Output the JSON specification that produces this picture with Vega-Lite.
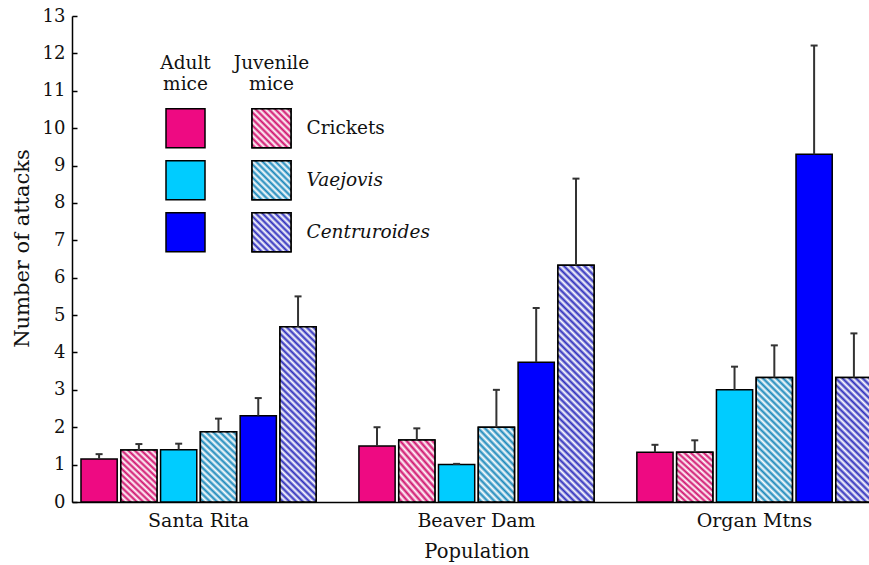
{
"$schema": "https://vega.github.io/schema/vega-lite/v6.json",
"width": 797, "height": 486,
"autosize": {"type": "none"},
"padding": {"left": 72, "top": 16, "right": 0, "bottom": 63},
"background": "white",
"config": {
  "font": "DejaVu Serif",
  "view": {"stroke": null},
  "axis": {"grid": false, "labelFontSize": 18, "titleFontSize": 19.5, "titleFontWeight": "normal", "labelColor": "#111", "titleColor": "#111", "domainColor": "#000", "domainWidth": 1.5, "tickColor": "#000", "tickWidth": 1.5}
},
"datasets": {
  "bars": [
    {"population": "Santa Rita", "prey": "Crickets", "age": "Adult", "series": "Crickets Adult", "attacks": 1.15, "upper": 1.28},
    {"population": "Santa Rita", "prey": "Crickets", "age": "Juvenile", "series": "Crickets Juvenile", "attacks": 1.39, "upper": 1.55},
    {"population": "Santa Rita", "prey": "Vaejovis", "age": "Adult", "series": "Vaejovis Adult", "attacks": 1.4, "upper": 1.56},
    {"population": "Santa Rita", "prey": "Vaejovis", "age": "Juvenile", "series": "Vaejovis Juvenile", "attacks": 1.88, "upper": 2.23},
    {"population": "Santa Rita", "prey": "Centruroides", "age": "Adult", "series": "Centruroides Adult", "attacks": 2.31, "upper": 2.78},
    {"population": "Santa Rita", "prey": "Centruroides", "age": "Juvenile", "series": "Centruroides Juvenile", "attacks": 4.69, "upper": 5.5},
    {"population": "Beaver Dam", "prey": "Crickets", "age": "Adult", "series": "Crickets Adult", "attacks": 1.5, "upper": 2.0},
    {"population": "Beaver Dam", "prey": "Crickets", "age": "Juvenile", "series": "Crickets Juvenile", "attacks": 1.66, "upper": 1.97},
    {"population": "Beaver Dam", "prey": "Vaejovis", "age": "Adult", "series": "Vaejovis Adult", "attacks": 1.0, "upper": 1.02},
    {"population": "Beaver Dam", "prey": "Vaejovis", "age": "Juvenile", "series": "Vaejovis Juvenile", "attacks": 2.0, "upper": 3.0},
    {"population": "Beaver Dam", "prey": "Centruroides", "age": "Adult", "series": "Centruroides Adult", "attacks": 3.74, "upper": 5.19},
    {"population": "Beaver Dam", "prey": "Centruroides", "age": "Juvenile", "series": "Centruroides Juvenile", "attacks": 6.33, "upper": 8.65},
    {"population": "Organ Mtns", "prey": "Crickets", "age": "Adult", "series": "Crickets Adult", "attacks": 1.33, "upper": 1.53},
    {"population": "Organ Mtns", "prey": "Crickets", "age": "Juvenile", "series": "Crickets Juvenile", "attacks": 1.33, "upper": 1.65},
    {"population": "Organ Mtns", "prey": "Vaejovis", "age": "Adult", "series": "Vaejovis Adult", "attacks": 3.0, "upper": 3.62},
    {"population": "Organ Mtns", "prey": "Vaejovis", "age": "Juvenile", "series": "Vaejovis Juvenile", "attacks": 3.33, "upper": 4.19},
    {"population": "Organ Mtns", "prey": "Centruroides", "age": "Adult", "series": "Centruroides Adult", "attacks": 9.3, "upper": 12.21},
    {"population": "Organ Mtns", "prey": "Centruroides", "age": "Juvenile", "series": "Centruroides Juvenile", "attacks": 3.33, "upper": 4.51}
  ],
  "legend": [
    {"age": "Adult", "prey": "Crickets", "series": "Crickets Adult"},
    {"age": "Juvenile", "prey": "Crickets", "series": "Crickets Juvenile"},
    {"age": "Adult", "prey": "Vaejovis", "series": "Vaejovis Adult"},
    {"age": "Juvenile", "prey": "Vaejovis", "series": "Vaejovis Juvenile"},
    {"age": "Adult", "prey": "Centruroides", "series": "Centruroides Adult"},
    {"age": "Juvenile", "prey": "Centruroides", "series": "Centruroides Juvenile"}
  ],
  "headers": [
    {"age": "Adult", "label": "Adult\nmice"},
    {"age": "Juvenile", "label": "Juvenile\nmice"}
  ]
},
"layer": [
  {
    "data": {"name": "bars"},
    "encoding": {
      "x": {"field": "population", "type": "nominal", "sort": ["Santa Rita", "Beaver Dam", "Organ Mtns"],
            "scale": {"range": [0, 809], "paddingInner": 0.141, "paddingOuter": 0.0259},
            "axis": {"title": "Population", "ticks": false, "labelPadding": 9, "titlePadding": 12, "labelAngle": 0, "labelFontSize": 19}},
      "xOffset": {"field": "series", "type": "nominal",
            "scale": {"domain": ["Crickets Adult", "Crickets Juvenile", "Vaejovis Adult", "Vaejovis Juvenile", "Centruroides Adult", "Centruroides Juvenile"], "paddingInner": 0.09, "paddingOuter": 0.045}},
      "y": {"field": "attacks", "type": "quantitative", "scale": {"domain": [0, 13], "nice": false},
            "axis": {"title": "Number of attacks", "titleFontSize": 21, "titleY": 232, "values": [0,1,2,3,4,5,6,7,8,9,10,11,12,13], "tickSize": -5, "labelPadding": 12, "titlePadding": 10}}
    },
    "layer": [
      {
        "mark": {"type": "bar", "stroke": "black", "strokeWidth": 1.5, "opacity": 1, "clip": true},
        "encoding": {
          "fill": {"field": "series", "type": "nominal", "legend": null,
            "scale": {"domain": ["Crickets Adult", "Crickets Juvenile", "Vaejovis Adult", "Vaejovis Juvenile", "Centruroides Adult", "Centruroides Juvenile"],
                      "range": ["#ee0a82", "#d0106c", "#00ccff", "#1a88bb", "#0000ff", "#2e2ebc"]}}
        }
      },
      {
        "transform": [{"filter": "datum.age == 'Juvenile'"}],
        "mark": {"type": "bar", "stroke": "black", "strokeWidth": 1.5, "opacity": 1, "clip": true},
        "encoding": {
          "fill": {
            "condition": [
              {"test": "datum.prey == 'Crickets'", "value": {"gradient": "linear", "x1": 0, "y1": 1, "x2": 0.7692, "y2": -0.1538, "stops": [
                {"offset":0,"color":"white"},{"offset":0.0357,"color":"rgba(255,255,255,0)"},{"offset":0.0714,"color":"white"},{"offset":0.1071,"color":"rgba(255,255,255,0)"},{"offset":0.1429,"color":"white"},{"offset":0.1786,"color":"rgba(255,255,255,0)"},{"offset":0.2143,"color":"white"},{"offset":0.25,"color":"rgba(255,255,255,0)"},{"offset":0.2857,"color":"white"},{"offset":0.3214,"color":"rgba(255,255,255,0)"},{"offset":0.3571,"color":"white"},{"offset":0.3929,"color":"rgba(255,255,255,0)"},{"offset":0.4286,"color":"white"},{"offset":0.4643,"color":"rgba(255,255,255,0)"},{"offset":0.5,"color":"white"},{"offset":0.5357,"color":"rgba(255,255,255,0)"},{"offset":0.5714,"color":"white"},{"offset":0.6071,"color":"rgba(255,255,255,0)"},{"offset":0.6429,"color":"white"},{"offset":0.6786,"color":"rgba(255,255,255,0)"},{"offset":0.7143,"color":"white"},{"offset":0.75,"color":"rgba(255,255,255,0)"},{"offset":0.7857,"color":"white"},{"offset":0.8214,"color":"rgba(255,255,255,0)"},{"offset":0.8571,"color":"white"},{"offset":0.8929,"color":"rgba(255,255,255,0)"},{"offset":0.9286,"color":"white"},{"offset":0.9643,"color":"rgba(255,255,255,0)"},{"offset":1,"color":"white"}]}},
              {"test": "datum.population == 'Organ Mtns'", "value": {"gradient": "linear", "x1": 0, "y1": 1, "x2": 0.3438, "y2": -0.1897, "stops": [
                {"offset":0,"color":"white"},{"offset":0.0208,"color":"rgba(255,255,255,0)"},{"offset":0.0417,"color":"white"},{"offset":0.0625,"color":"rgba(255,255,255,0)"},{"offset":0.0833,"color":"white"},{"offset":0.1042,"color":"rgba(255,255,255,0)"},{"offset":0.125,"color":"white"},{"offset":0.1458,"color":"rgba(255,255,255,0)"},{"offset":0.1667,"color":"white"},{"offset":0.1875,"color":"rgba(255,255,255,0)"},{"offset":0.2083,"color":"white"},{"offset":0.2292,"color":"rgba(255,255,255,0)"},{"offset":0.25,"color":"white"},{"offset":0.2708,"color":"rgba(255,255,255,0)"},{"offset":0.2917,"color":"white"},{"offset":0.3125,"color":"rgba(255,255,255,0)"},{"offset":0.3333,"color":"white"},{"offset":0.3542,"color":"rgba(255,255,255,0)"},{"offset":0.375,"color":"white"},{"offset":0.3958,"color":"rgba(255,255,255,0)"},{"offset":0.4167,"color":"white"},{"offset":0.4375,"color":"rgba(255,255,255,0)"},{"offset":0.4583,"color":"white"},{"offset":0.4792,"color":"rgba(255,255,255,0)"},{"offset":0.5,"color":"white"},{"offset":0.5208,"color":"rgba(255,255,255,0)"},{"offset":0.5417,"color":"white"},{"offset":0.5625,"color":"rgba(255,255,255,0)"},{"offset":0.5833,"color":"white"},{"offset":0.6042,"color":"rgba(255,255,255,0)"},{"offset":0.625,"color":"white"},{"offset":0.6458,"color":"rgba(255,255,255,0)"},{"offset":0.6667,"color":"white"},{"offset":0.6875,"color":"rgba(255,255,255,0)"},{"offset":0.7083,"color":"white"},{"offset":0.7292,"color":"rgba(255,255,255,0)"},{"offset":0.75,"color":"white"},{"offset":0.7708,"color":"rgba(255,255,255,0)"},{"offset":0.7917,"color":"white"},{"offset":0.8125,"color":"rgba(255,255,255,0)"},{"offset":0.8333,"color":"white"},{"offset":0.8542,"color":"rgba(255,255,255,0)"},{"offset":0.875,"color":"white"},{"offset":0.8958,"color":"rgba(255,255,255,0)"},{"offset":0.9167,"color":"white"},{"offset":0.9375,"color":"rgba(255,255,255,0)"},{"offset":0.9583,"color":"white"},{"offset":0.9792,"color":"rgba(255,255,255,0)"},{"offset":1,"color":"white"}]}},
              {"test": "datum.prey == 'Vaejovis'", "value": {"gradient": "linear", "x1": 0, "y1": 1, "x2": 0.6, "y2": -0.2, "stops": [
                {"offset":0,"color":"white"},{"offset":0.03125,"color":"rgba(255,255,255,0)"},{"offset":0.0625,"color":"white"},{"offset":0.09375,"color":"rgba(255,255,255,0)"},{"offset":0.125,"color":"white"},{"offset":0.15625,"color":"rgba(255,255,255,0)"},{"offset":0.1875,"color":"white"},{"offset":0.21875,"color":"rgba(255,255,255,0)"},{"offset":0.25,"color":"white"},{"offset":0.28125,"color":"rgba(255,255,255,0)"},{"offset":0.3125,"color":"white"},{"offset":0.34375,"color":"rgba(255,255,255,0)"},{"offset":0.375,"color":"white"},{"offset":0.40625,"color":"rgba(255,255,255,0)"},{"offset":0.4375,"color":"white"},{"offset":0.46875,"color":"rgba(255,255,255,0)"},{"offset":0.5,"color":"white"},{"offset":0.53125,"color":"rgba(255,255,255,0)"},{"offset":0.5625,"color":"white"},{"offset":0.59375,"color":"rgba(255,255,255,0)"},{"offset":0.625,"color":"white"},{"offset":0.65625,"color":"rgba(255,255,255,0)"},{"offset":0.6875,"color":"white"},{"offset":0.71875,"color":"rgba(255,255,255,0)"},{"offset":0.75,"color":"white"},{"offset":0.78125,"color":"rgba(255,255,255,0)"},{"offset":0.8125,"color":"white"},{"offset":0.84375,"color":"rgba(255,255,255,0)"},{"offset":0.875,"color":"white"},{"offset":0.90625,"color":"rgba(255,255,255,0)"},{"offset":0.9375,"color":"white"},{"offset":0.96875,"color":"rgba(255,255,255,0)"},{"offset":1,"color":"white"}]}},
              {"test": "datum.population == 'Santa Rita'", "value": {"gradient": "linear", "x1": 0, "y1": 1, "x2": 0.2375, "y2": -0.1566, "stops": [
                {"offset":0,"color":"white"},{"offset":0.015625,"color":"rgba(255,255,255,0)"},{"offset":0.03125,"color":"white"},{"offset":0.046875,"color":"rgba(255,255,255,0)"},{"offset":0.0625,"color":"white"},{"offset":0.078125,"color":"rgba(255,255,255,0)"},{"offset":0.09375,"color":"white"},{"offset":0.109375,"color":"rgba(255,255,255,0)"},{"offset":0.125,"color":"white"},{"offset":0.140625,"color":"rgba(255,255,255,0)"},{"offset":0.15625,"color":"white"},{"offset":0.171875,"color":"rgba(255,255,255,0)"},{"offset":0.1875,"color":"white"},{"offset":0.203125,"color":"rgba(255,255,255,0)"},{"offset":0.21875,"color":"white"},{"offset":0.234375,"color":"rgba(255,255,255,0)"},{"offset":0.25,"color":"white"},{"offset":0.265625,"color":"rgba(255,255,255,0)"},{"offset":0.28125,"color":"white"},{"offset":0.296875,"color":"rgba(255,255,255,0)"},{"offset":0.3125,"color":"white"},{"offset":0.328125,"color":"rgba(255,255,255,0)"},{"offset":0.34375,"color":"white"},{"offset":0.359375,"color":"rgba(255,255,255,0)"},{"offset":0.375,"color":"white"},{"offset":0.390625,"color":"rgba(255,255,255,0)"},{"offset":0.40625,"color":"white"},{"offset":0.421875,"color":"rgba(255,255,255,0)"},{"offset":0.4375,"color":"white"},{"offset":0.453125,"color":"rgba(255,255,255,0)"},{"offset":0.46875,"color":"white"},{"offset":0.484375,"color":"rgba(255,255,255,0)"},{"offset":0.5,"color":"white"},{"offset":0.515625,"color":"rgba(255,255,255,0)"},{"offset":0.53125,"color":"white"},{"offset":0.546875,"color":"rgba(255,255,255,0)"},{"offset":0.5625,"color":"white"},{"offset":0.578125,"color":"rgba(255,255,255,0)"},{"offset":0.59375,"color":"white"},{"offset":0.609375,"color":"rgba(255,255,255,0)"},{"offset":0.625,"color":"white"},{"offset":0.640625,"color":"rgba(255,255,255,0)"},{"offset":0.65625,"color":"white"},{"offset":0.671875,"color":"rgba(255,255,255,0)"},{"offset":0.6875,"color":"white"},{"offset":0.703125,"color":"rgba(255,255,255,0)"},{"offset":0.71875,"color":"white"},{"offset":0.734375,"color":"rgba(255,255,255,0)"},{"offset":0.75,"color":"white"},{"offset":0.765625,"color":"rgba(255,255,255,0)"},{"offset":0.78125,"color":"white"},{"offset":0.796875,"color":"rgba(255,255,255,0)"},{"offset":0.8125,"color":"white"},{"offset":0.828125,"color":"rgba(255,255,255,0)"},{"offset":0.84375,"color":"white"},{"offset":0.859375,"color":"rgba(255,255,255,0)"},{"offset":0.875,"color":"white"},{"offset":0.890625,"color":"rgba(255,255,255,0)"},{"offset":0.90625,"color":"white"},{"offset":0.921875,"color":"rgba(255,255,255,0)"},{"offset":0.9375,"color":"white"},{"offset":0.953125,"color":"rgba(255,255,255,0)"},{"offset":0.96875,"color":"white"},{"offset":0.984375,"color":"rgba(255,255,255,0)"},{"offset":1,"color":"white"}]}}
            ],
            "value": {"gradient": "linear", "x1": 0, "y1": 1, "x2": 0.1714, "y2": -0.1261, "stops": [
                {"offset":0,"color":"white"},{"offset":0.0125,"color":"rgba(255,255,255,0)"},{"offset":0.025,"color":"white"},{"offset":0.0375,"color":"rgba(255,255,255,0)"},{"offset":0.05,"color":"white"},{"offset":0.0625,"color":"rgba(255,255,255,0)"},{"offset":0.075,"color":"white"},{"offset":0.0875,"color":"rgba(255,255,255,0)"},{"offset":0.1,"color":"white"},{"offset":0.1125,"color":"rgba(255,255,255,0)"},{"offset":0.125,"color":"white"},{"offset":0.1375,"color":"rgba(255,255,255,0)"},{"offset":0.15,"color":"white"},{"offset":0.1625,"color":"rgba(255,255,255,0)"},{"offset":0.175,"color":"white"},{"offset":0.1875,"color":"rgba(255,255,255,0)"},{"offset":0.2,"color":"white"},{"offset":0.2125,"color":"rgba(255,255,255,0)"},{"offset":0.225,"color":"white"},{"offset":0.2375,"color":"rgba(255,255,255,0)"},{"offset":0.25,"color":"white"},{"offset":0.2625,"color":"rgba(255,255,255,0)"},{"offset":0.275,"color":"white"},{"offset":0.2875,"color":"rgba(255,255,255,0)"},{"offset":0.3,"color":"white"},{"offset":0.3125,"color":"rgba(255,255,255,0)"},{"offset":0.325,"color":"white"},{"offset":0.3375,"color":"rgba(255,255,255,0)"},{"offset":0.35,"color":"white"},{"offset":0.3625,"color":"rgba(255,255,255,0)"},{"offset":0.375,"color":"white"},{"offset":0.3875,"color":"rgba(255,255,255,0)"},{"offset":0.4,"color":"white"},{"offset":0.4125,"color":"rgba(255,255,255,0)"},{"offset":0.425,"color":"white"},{"offset":0.4375,"color":"rgba(255,255,255,0)"},{"offset":0.45,"color":"white"},{"offset":0.4625,"color":"rgba(255,255,255,0)"},{"offset":0.475,"color":"white"},{"offset":0.4875,"color":"rgba(255,255,255,0)"},{"offset":0.5,"color":"white"},{"offset":0.5125,"color":"rgba(255,255,255,0)"},{"offset":0.525,"color":"white"},{"offset":0.5375,"color":"rgba(255,255,255,0)"},{"offset":0.55,"color":"white"},{"offset":0.5625,"color":"rgba(255,255,255,0)"},{"offset":0.575,"color":"white"},{"offset":0.5875,"color":"rgba(255,255,255,0)"},{"offset":0.6,"color":"white"},{"offset":0.6125,"color":"rgba(255,255,255,0)"},{"offset":0.625,"color":"white"},{"offset":0.6375,"color":"rgba(255,255,255,0)"},{"offset":0.65,"color":"white"},{"offset":0.6625,"color":"rgba(255,255,255,0)"},{"offset":0.675,"color":"white"},{"offset":0.6875,"color":"rgba(255,255,255,0)"},{"offset":0.7,"color":"white"},{"offset":0.7125,"color":"rgba(255,255,255,0)"},{"offset":0.725,"color":"white"},{"offset":0.7375,"color":"rgba(255,255,255,0)"},{"offset":0.75,"color":"white"},{"offset":0.7625,"color":"rgba(255,255,255,0)"},{"offset":0.775,"color":"white"},{"offset":0.7875,"color":"rgba(255,255,255,0)"},{"offset":0.8,"color":"white"},{"offset":0.8125,"color":"rgba(255,255,255,0)"},{"offset":0.825,"color":"white"},{"offset":0.8375,"color":"rgba(255,255,255,0)"},{"offset":0.85,"color":"white"},{"offset":0.8625,"color":"rgba(255,255,255,0)"},{"offset":0.875,"color":"white"},{"offset":0.8875,"color":"rgba(255,255,255,0)"},{"offset":0.9,"color":"white"},{"offset":0.9125,"color":"rgba(255,255,255,0)"},{"offset":0.925,"color":"white"},{"offset":0.9375,"color":"rgba(255,255,255,0)"},{"offset":0.95,"color":"white"},{"offset":0.9625,"color":"rgba(255,255,255,0)"},{"offset":0.975,"color":"white"},{"offset":0.9875,"color":"rgba(255,255,255,0)"},{"offset":1,"color":"white"}]}
          }
        }
      },
      {
        "mark": {"type": "rule", "color": "#333", "strokeWidth": 2},
        "encoding": {"y2": {"field": "upper"}}
      },
      {
        "mark": {"type": "tick", "color": "#333", "size": 7, "thickness": 2, "opacity": 1},
        "encoding": {"y": {"field": "upper", "type": "quantitative"}}
      },
      {
        "data": {"values": [{}]},
        "mark": {"type": "rule", "color": "black", "strokeWidth": 1.5},
        "encoding": {"x": null, "xOffset": null, "y": {"datum": 13, "type": "quantitative"}}
      }
    ]
  },
  {
    "data": {"name": "legend"},
    "encoding": {
      "x": {"field": "age", "type": "nominal", "axis": null,
            "scale": {"type": "point", "domain": ["Adult", "Juvenile"], "range": [113.5, 199.5], "padding": 0}},
      "y": {"field": "prey", "type": "nominal", "axis": null,
            "scale": {"type": "point", "domain": ["Crickets", "Vaejovis", "Centruroides"], "range": [112.3, 216.2], "padding": 0}}
    },
    "layer": [
      {
        "mark": {"type": "square", "size": 1521, "stroke": "black", "strokeWidth": 1.5, "opacity": 1, "filled": true},
        "encoding": {"fill": {"field": "series", "type": "nominal", "legend": null}}
      },
      {
        "transform": [{"filter": "datum.age == 'Juvenile'"}],
        "mark": {"type": "square", "size": 1521, "stroke": "black", "strokeWidth": 1.5, "opacity": 1, "filled": true,
          "fill": {"gradient": "linear", "x1": 0, "y1": 1, "x2": 1, "y2": 0, "stops": [
            {"offset":0,"color":"white"},{"offset":0.0417,"color":"rgba(255,255,255,0)"},{"offset":0.0833,"color":"white"},{"offset":0.125,"color":"rgba(255,255,255,0)"},{"offset":0.1667,"color":"white"},{"offset":0.2083,"color":"rgba(255,255,255,0)"},{"offset":0.25,"color":"white"},{"offset":0.2917,"color":"rgba(255,255,255,0)"},{"offset":0.3333,"color":"white"},{"offset":0.375,"color":"rgba(255,255,255,0)"},{"offset":0.4167,"color":"white"},{"offset":0.4583,"color":"rgba(255,255,255,0)"},{"offset":0.5,"color":"white"},{"offset":0.5417,"color":"rgba(255,255,255,0)"},{"offset":0.5833,"color":"white"},{"offset":0.625,"color":"rgba(255,255,255,0)"},{"offset":0.6667,"color":"white"},{"offset":0.7083,"color":"rgba(255,255,255,0)"},{"offset":0.75,"color":"white"},{"offset":0.7917,"color":"rgba(255,255,255,0)"},{"offset":0.8333,"color":"white"},{"offset":0.875,"color":"rgba(255,255,255,0)"},{"offset":0.9167,"color":"white"},{"offset":0.9583,"color":"rgba(255,255,255,0)"},{"offset":1,"color":"white"}]}}
      },
      {
        "transform": [{"filter": "datum.age == 'Juvenile' && datum.prey == 'Crickets'"}],
        "mark": {"type": "text", "align": "left", "baseline": "middle", "dx": 35, "fontSize": 18.5, "color": "#111"},
        "encoding": {"text": {"field": "prey"}}
      },
      {
        "transform": [{"filter": "datum.age == 'Juvenile' && datum.prey != 'Crickets'"}],
        "mark": {"type": "text", "align": "left", "baseline": "middle", "dx": 35, "fontSize": 18.5, "fontStyle": "italic", "color": "#111"},
        "encoding": {"text": {"field": "prey"}}
      },
      {
        "data": {"name": "headers"},
        "mark": {"type": "text", "align": "center", "baseline": "middle", "fontSize": 18.5, "lineBreak": "\n", "lineHeight": 21, "dy": -65, "color": "#111"},
        "encoding": {"y": {"datum": "Crickets", "type": "nominal"}, "text": {"field": "label"}}
      }
    ]
  }
],
"resolve": {"scale": {"x": "independent", "y": "independent"}}
}
